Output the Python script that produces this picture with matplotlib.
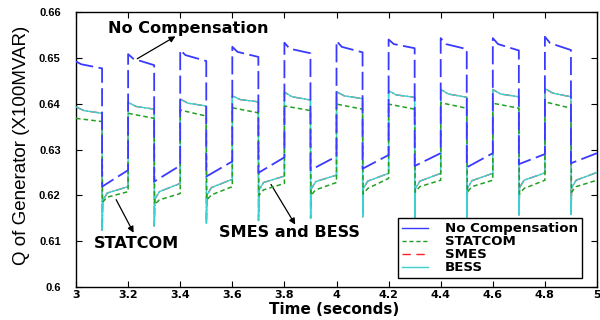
import numpy as np
import matplotlib
matplotlib.use('Agg')
import matplotlib.pyplot as plt
from matplotlib.lines import Line2D

# start of each switching cycle (high half, then low half)
cycle_start = np.array([3.0, 3.2, 3.4, 3.6, 3.8, 4.0, 4.2, 4.4, 4.6, 4.8])

# No Compensation
nc_hi_start = [0.6492, 0.6508, 0.6517, 0.6524, 0.6533, 0.6537, 0.6540, 0.6543, 0.6543, 0.6546]
nc_hi_mid = [0.6486, 0.6498, 0.6506, 0.6513, 0.6520, 0.6524, 0.6530, 0.6530, 0.6530, 0.6532]
nc_hi_end = [0.6477, 0.6484, 0.6493, 0.6502, 0.6510, 0.6512, 0.6521, 0.6519, 0.6516, 0.6517]
nc_lo_start = [0.6219, 0.6230, 0.6241, 0.6249, 0.6255, 0.6258, 0.6264, 0.6261, 0.6268, 0.6270]
nc_lo_end = [0.6255, 0.6265, 0.6274, 0.6283, 0.6285, 0.6288, 0.6292, 0.6292, 0.6290, 0.6292]

# STATCOM
st_hi_start = [0.6368, 0.6379, 0.6386, 0.6391, 0.6395, 0.6399, 0.6399, 0.6402, 0.6401, 0.6404]
st_hi_end = [0.6361, 0.6368, 0.6373, 0.6380, 0.6385, 0.6388, 0.6388, 0.6390, 0.6390, 0.6390]
st_lo_start = [0.6185, 0.6180, 0.6190, 0.6200, 0.6200, 0.6203, 0.6207, 0.6207, 0.6203, 0.6207]
st_lo_knee = [0.6196, 0.6190, 0.6201, 0.6212, 0.6212, 0.6215, 0.6219, 0.6219, 0.6215, 0.6219]
st_lo_end = [0.6208, 0.6204, 0.6219, 0.6226, 0.6228, 0.6237, 0.6233, 0.6233, 0.6233, 0.6233]

# BESS
bs_hi_start = [0.6393, 0.6403, 0.6410, 0.6417, 0.6425, 0.6426, 0.6428, 0.6431, 0.6431, 0.6433]
bs_hi_mid = [0.6385, 0.6394, 0.6401, 0.6409, 0.6415, 0.6417, 0.6419, 0.6421, 0.6421, 0.6423]
bs_hi_end = [0.6379, 0.6388, 0.6395, 0.6404, 0.6408, 0.6411, 0.6414, 0.6414, 0.6415, 0.6415]
bs_lo_dip = [0.6124, 0.6133, 0.6139, 0.6145, 0.6150, 0.6153, 0.6150, 0.6150, 0.6157, 0.6158]
bs_lo_rec = [0.6189, 0.6192, 0.6201, 0.6212, 0.6214, 0.6215, 0.6215, 0.6216, 0.6217, 0.6217]
bs_lo_knee = [0.6205, 0.6208, 0.6217, 0.6228, 0.6230, 0.6231, 0.6231, 0.6232, 0.6233, 0.6233]
bs_lo_end = [0.6219, 0.6226, 0.6235, 0.6242, 0.6244, 0.6248, 0.6248, 0.6248, 0.6249, 0.6250]

# SMES (practically on top of BESS)
sm_hi_start = [0.6393, 0.6403, 0.6410, 0.6417, 0.6425, 0.6426, 0.6428, 0.6431, 0.6431, 0.6433]
sm_hi_mid = [0.6385, 0.6394, 0.6401, 0.6409, 0.6415, 0.6417, 0.6419, 0.6421, 0.6421, 0.6423]
sm_hi_end = [0.6379, 0.6388, 0.6395, 0.6404, 0.6408, 0.6411, 0.6414, 0.6414, 0.6415, 0.6415]
sm_lo_dip = [0.6124, 0.6133, 0.6139, 0.6145, 0.6150, 0.6153, 0.6150, 0.6150, 0.6157, 0.6158]
sm_lo_rec = [0.6189, 0.6192, 0.6201, 0.6212, 0.6214, 0.6215, 0.6215, 0.6216, 0.6217, 0.6217]
sm_lo_knee = [0.6205, 0.6208, 0.6217, 0.6228, 0.6230, 0.6231, 0.6231, 0.6232, 0.6233, 0.6233]
sm_lo_end = [0.6219, 0.6226, 0.6235, 0.6242, 0.6244, 0.6248, 0.6248, 0.6248, 0.6249, 0.6250]

xticks = [3, 3.2, 3.4, 3.6, 3.8, 4, 4.2, 4.4, 4.6, 4.8, 5]
yticks = [0.6, 0.61, 0.62, 0.63, 0.64, 0.65, 0.66]

# time offsets inside a cycle for each stored point
nc_off = [0.0, 0.02, 0.1, 0.1, 0.2]
st_off = [0.0, 0.1, 0.102, 0.12, 0.2]
bs_off = [0.0, 0.03, 0.1, 0.1005, 0.103, 0.12, 0.2]


def build(offsets, cols):
    t = (cycle_start[:, None] + np.array(offsets)[None, :]).ravel()
    v = np.column_stack(cols).ravel()
    return t, v


t_nc, y_nc = build(nc_off, [nc_hi_start, nc_hi_mid, nc_hi_end, nc_lo_start, nc_lo_end])
t_st, y_st = build(st_off, [st_hi_start, st_hi_end, st_lo_start, st_lo_knee, st_lo_end])
t_bs, y_bs = build(bs_off, [bs_hi_start, bs_hi_mid, bs_hi_end, bs_lo_dip, bs_lo_rec, bs_lo_knee, bs_lo_end])
t_sm, y_sm = build(bs_off, [sm_hi_start, sm_hi_mid, sm_hi_end, sm_lo_dip, sm_lo_rec, sm_lo_knee, sm_lo_end])

c_nc = '#3a3aff'
c_st = '#22a022'
c_sm = '#ff2020'
c_bs = '#3cd0d0'

fig = plt.figure(figsize=(6, 3.2), dpi=100)
ax = fig.add_axes([0.1267, 0.1031, 0.8683, 0.8594])

ax.plot(t_sm, y_sm, color=c_sm, lw=1, linestyle='-.', zorder=2)
ax.plot(t_bs, y_bs, color=c_bs, lw=1, zorder=3)
ax.plot(t_st, y_st, color=c_st, lw=1.1, dashes=(3, 2), zorder=4)
ax.plot(t_nc, y_nc, color=c_nc, lw=1.3, dashes=(10, 3), zorder=5)

ax.set_xlim(3, 5)
ax.set_ylim(0.6, 0.66)
ax.set_xticks(xticks)
ax.set_yticks(yticks)
ax.set_xticklabels(['%g' % v for v in xticks], fontweight='bold', fontsize=8, family='DejaVu Sans')
ax.set_yticklabels(['%g' % v for v in yticks], fontweight='bold', fontsize=8, family='Liberation Sans')
ax.tick_params(direction='in', top=True, right=True, length=4, width=0.8)
ax.tick_params(axis='x', pad=2)
ax.tick_params(axis='y', pad=11)
for s in ax.spines.values():
    s.set_linewidth(1)

ax.set_xlabel('Time (seconds)', fontweight='bold', fontsize=11)
ax.xaxis.label.set_va('center')
ax.xaxis.set_label_coords(0.495, -0.08)
ax.set_ylabel('Q of Generator (X100MVAR)', fontsize=13.5, family='Liberation Sans')
ax.yaxis.label.set_va('center')
ax.yaxis.set_label_coords(-0.105, 0.515)

arrow = dict(arrowstyle='-|>', color='black', lw=0.9, mutation_scale=9)
ax.annotate('', xy=(3.391, 0.655), xytext=(3.226, 0.6495), arrowprops=arrow)
ax.text(3.432, 0.6565, 'No Compensation', fontweight='bold', fontsize=11.6, ha='center', va='center')
ax.annotate('', xy=(3.226, 0.6113), xytext=(3.149, 0.6196), arrowprops=arrow)
ax.text(3.234, 0.6096, 'STATCOM', fontweight='bold', fontsize=11.6, ha='center', va='center')
ax.annotate('', xy=(3.847, 0.6131), xytext=(3.743, 0.6229), arrowprops=arrow)
ax.text(3.82, 0.6118, 'SMES and BESS', fontweight='bold', fontsize=11.6, ha='center', va='center')

handles = [Line2D([], [], color=c_nc, lw=1),
           Line2D([], [], color=c_st, lw=1, dashes=(3, 2)),
           Line2D([], [], color=c_sm, lw=1, dashes=(6, 4)),
           Line2D([], [], color=c_bs, lw=1)]
leg = ax.legend(handles, ['No Compensation', 'STATCOM', 'SMES', 'BESS'],
                loc='lower right', bbox_to_anchor=(0.971, 0.031), borderaxespad=0,
                prop={'weight': 'bold', 'size': 9.6}, handlelength=1.9, handletextpad=1.3,
                labelspacing=0.0, borderpad=0.3, fancybox=False, framealpha=1)
leg.get_frame().set_edgecolor('black')
leg.get_frame().set_linewidth(1)

fig.savefig('out.png', dpi=100)
